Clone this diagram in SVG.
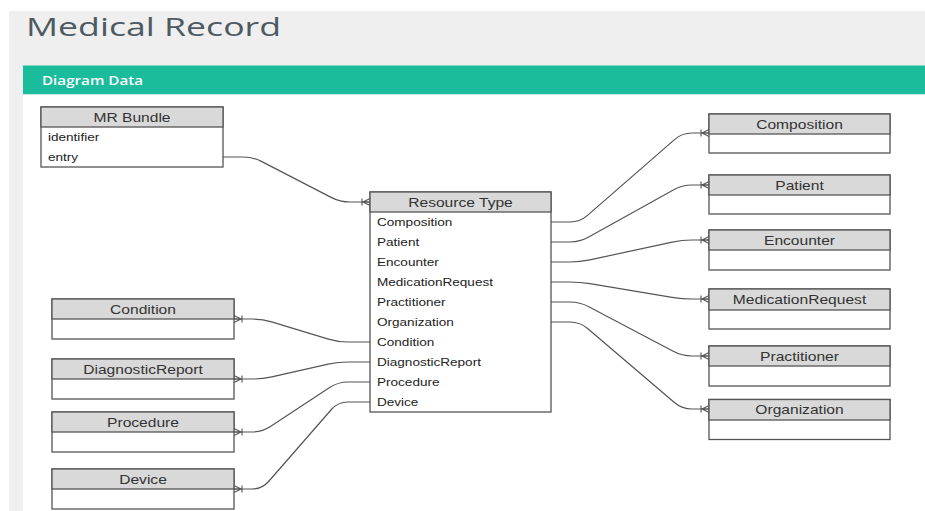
<svg xmlns="http://www.w3.org/2000/svg" width="925" height="511" viewBox="0 0 925 511">
<style>
.box{fill:#ffffff;stroke:#555555;stroke-width:1.3}
.hd{fill:#d9d9d9;stroke:#555555;stroke-width:1.3}
.h{font-family:"Liberation Sans",Arial,sans-serif;font-size:13px;fill:#333333;text-anchor:middle}
.r{font-family:"Liberation Sans",Arial,sans-serif;font-size:11.3px;fill:#222222}
.c{fill:none;stroke:#555555;stroke-width:1.2}
</style>
<defs>
<marker id="many" markerUnits="userSpaceOnUse" markerWidth="12" markerHeight="10" viewBox="0 0 12 10" refX="11" refY="5" orient="auto">
<path d="M11,1.5 L4,5 L11,8.5 M4,5 H11 M3,1.5 V8.5" fill="none" stroke="#555555" stroke-width="1.1"/>
</marker>
</defs>
<rect x="0" y="0" width="925" height="511" fill="#ffffff"/>
<rect x="9" y="11" width="916" height="500" fill="#efefef"/>
<text x="26" y="36" font-family="'Open Sans',sans-serif" font-size="26" fill="#4d5a62" textLength="255" lengthAdjust="spacingAndGlyphs">Medical Record</text>
<rect x="23" y="65.5" width="902" height="29" fill="#1abc9c"/>
<text x="42" y="84.5" font-family="'Open Sans',sans-serif" font-size="12.5" font-weight="600" fill="#ffffff" textLength="101" lengthAdjust="spacingAndGlyphs">Diagram Data</text>
<rect x="23" y="94.5" width="902" height="416.5" fill="#ffffff"/>

<g id="connectors">
<path class="c" marker-end="url(#many)" d="M223,157 H243 Q253,157 261.9,161.6 L331.1,197.4 Q340,202 350,202 H370"/>
<path class="c" marker-end="url(#many)" d="M551,222 H570 Q580,222 587.5,215.4 L674.5,139.6 Q682,133 692,133 H709"/>
<path class="c" marker-end="url(#many)" d="M551,242 H570 Q580,242 588.7,237.1 L673.3,189.9 Q682,185 692,185 H709"/>
<path class="c" marker-end="url(#many)" d="M551,262 H570 Q580,262 589.8,259.9 L672.2,242.1 Q682,240 692,240 H709"/>
<path class="c" marker-end="url(#many)" d="M551,282 H570 Q580,282 589.9,283.6 L672.1,297.4 Q682,299 692,299 H709"/>
<path class="c" marker-end="url(#many)" d="M551,302 H570 Q580,302 588.8,306.7 L673.2,351.3 Q682,356 692,356 H709"/>
<path class="c" marker-end="url(#many)" d="M551,322 H570 Q580,322 587.6,328.5 L674.4,402.5 Q682,409 692,409 H709"/>
<path class="c" marker-end="url(#many)" d="M370,342 H348 Q338,342 328.4,339.1 L271.6,321.9 Q262,319 252,319 H234"/>
<path class="c" marker-end="url(#many)" d="M370,362 H348 Q338,362 328.2,364.2 L271.8,376.8 Q262,379 252,379 H234"/>
<path class="c" marker-end="url(#many)" d="M370,382 H348 Q338,382 329.6,387.5 L270.4,426.5 Q262,432 252,432 H234"/>
<path class="c" marker-end="url(#many)" d="M370,402 H348 Q338,402 331.4,409.5 L268.6,481.5 Q262,489 252,489 H234"/>
</g>

<g id="mr-bundle">
<rect class="box" x="41" y="107" width="182" height="60"/>
<rect class="hd" x="41" y="107" width="182" height="20"/>
<text class="h" transform="translate(132 121.7) scale(1.2 1)">MR Bundle</text>
<text class="r" transform="translate(48 140.5) scale(1.2 1)">identifier</text>
<text class="r" transform="translate(48 160.5) scale(1.2 1)">entry</text>
</g>

<g id="resource-type">
<rect class="box" x="370" y="192" width="181" height="220"/>
<rect class="hd" x="370" y="192" width="181" height="20"/>
<text class="h" transform="translate(460.5 206.7) scale(1.2 1)">Resource Type</text>
<text class="r" transform="translate(377 225.6) scale(1.2 1)">Composition</text>
<text class="r" transform="translate(377 245.6) scale(1.2 1)">Patient</text>
<text class="r" transform="translate(377 265.6) scale(1.2 1)">Encounter</text>
<text class="r" transform="translate(377 285.6) scale(1.2 1)">MedicationRequest</text>
<text class="r" transform="translate(377 305.6) scale(1.2 1)">Practitioner</text>
<text class="r" transform="translate(377 325.6) scale(1.2 1)">Organization</text>
<text class="r" transform="translate(377 345.6) scale(1.2 1)">Condition</text>
<text class="r" transform="translate(377 365.6) scale(1.2 1)">DiagnosticReport</text>
<text class="r" transform="translate(377 385.6) scale(1.2 1)">Procedure</text>
<text class="r" transform="translate(377 405.6) scale(1.2 1)">Device</text>
</g>

<g id="composition">
<rect class="box" x="709" y="114" width="181" height="39"/>
<rect class="hd" x="709" y="114" width="181" height="20"/>
<text class="h" transform="translate(799.5 129.3) scale(1.2 1)">Composition</text>
</g>
<g id="patient">
<rect class="box" x="709" y="175" width="181" height="39"/>
<rect class="hd" x="709" y="175" width="181" height="20"/>
<text class="h" transform="translate(799.5 189.8) scale(1.2 1)">Patient</text>
</g>
<g id="encounter">
<rect class="box" x="709" y="230" width="181" height="40"/>
<rect class="hd" x="709" y="230" width="181" height="20"/>
<text class="h" transform="translate(799.5 245.2) scale(1.2 1)">Encounter</text>
</g>
<g id="medication-request">
<rect class="box" x="709" y="289" width="181" height="40"/>
<rect class="hd" x="709" y="289" width="181" height="21"/>
<text class="h" transform="translate(799.5 304.4) scale(1.2 1)">MedicationRequest</text>
</g>
<g id="practitioner">
<rect class="box" x="709" y="346" width="181" height="40"/>
<rect class="hd" x="709" y="346" width="181" height="20"/>
<text class="h" transform="translate(799.5 360.8) scale(1.2 1)">Practitioner</text>
</g>
<g id="organization">
<rect class="box" x="709" y="399.5" width="181" height="40"/>
<rect class="hd" x="709" y="399.5" width="181" height="20.5"/>
<text class="h" transform="translate(799.5 414.4) scale(1.2 1)">Organization</text>
</g>

<g id="condition">
<rect class="box" x="52" y="299" width="182" height="40"/>
<rect class="hd" x="52" y="299" width="182" height="20"/>
<text class="h" transform="translate(143 314.3) scale(1.2 1)">Condition</text>
</g>
<g id="diagnostic-report">
<rect class="box" x="52" y="359" width="182" height="40"/>
<rect class="hd" x="52" y="359" width="182" height="20"/>
<text class="h" transform="translate(143 374.3) scale(1.2 1)">DiagnosticReport</text>
</g>
<g id="procedure">
<rect class="box" x="52" y="412" width="182" height="40"/>
<rect class="hd" x="52" y="412" width="182" height="20"/>
<text class="h" transform="translate(143 427) scale(1.2 1)">Procedure</text>
</g>
<g id="device">
<rect class="box" x="52" y="469" width="182" height="40"/>
<rect class="hd" x="52" y="469" width="182" height="20"/>
<text class="h" transform="translate(143 484) scale(1.2 1)">Device</text>
</g>
</svg>
